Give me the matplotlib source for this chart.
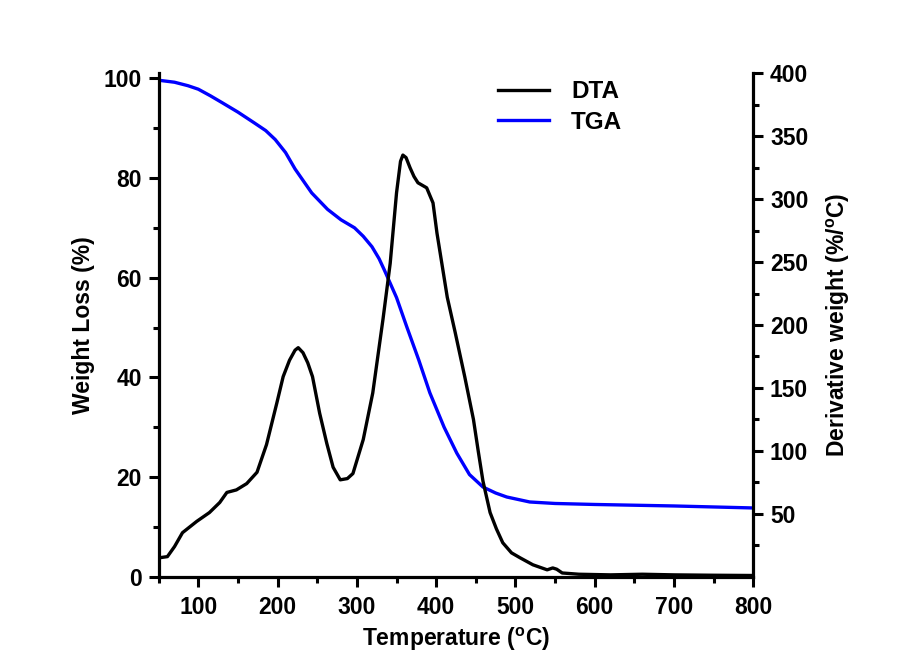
import matplotlib
matplotlib.use("Agg")
import matplotlib.pyplot as plt
from matplotlib.ticker import FixedLocator

plt.rcParams['font.family'] = ['Liberation Sans', 'DejaVu Sans']
plt.rcParams['font.weight'] = 'bold'
plt.rcParams['mathtext.fontset'] = 'custom'
plt.rcParams['mathtext.rm'] = 'Liberation Sans:bold'
plt.rcParams['mathtext.bf'] = 'Liberation Sans:bold'

# TGA curve (weight %, left axis)
tga_temp = [50, 70, 87, 100, 115, 130, 150, 171, 185, 197, 210, 222, 243, 263, 280, 297,
            308, 319, 328, 335, 350, 363, 378, 392, 410, 426, 442, 459, 475, 489, 518,
            550, 600, 700, 800]
tga_weight = [99.6, 99.2, 98.5, 97.8, 96.5, 95.1, 93.2, 91.0, 89.5, 87.7, 85.1, 81.8,
              77.0, 73.7, 71.6, 70.0, 68.3, 66.2, 63.8, 61.4, 56.0, 50.1, 43.5, 36.9,
              30.0, 24.8, 20.5, 18.0, 16.8, 16.0, 15.0, 14.7, 14.5, 14.2, 13.8]

# DTA / derivative curve (right axis)
dta_temp = [50, 61, 70, 80, 90, 98, 114, 127, 136, 148, 161, 174, 186, 199, 207, 215,
            222, 226, 232, 238, 244, 253, 262, 270, 279, 288, 295, 308, 320, 333, 342,
            350, 355, 358, 362, 367, 372, 377, 388, 396, 401, 414, 424, 436, 447, 453,
            459, 468, 476, 484, 495, 506, 522, 540, 547, 552, 559, 580, 620, 660, 700,
            750, 800]
dta_value = [15, 16, 24, 35, 40, 44, 51, 59, 67, 69, 74, 83, 105, 138, 159, 172,
             180, 182, 178, 170, 159, 130, 106, 87, 77, 78, 82, 109, 146, 205, 249,
             305, 330, 335, 333, 325, 318, 313, 309, 297, 273, 222, 194, 159, 125, 100,
             76, 51, 38, 27, 19, 15, 9.5, 5.5, 7, 6, 3, 2, 1.5, 2, 1.5, 1.2, 1]

fig = plt.figure(figsize=(9.12, 6.66), dpi=100)
ax = fig.add_axes([0.174, 0.134, 0.652, 0.756])
ax2 = ax.twinx()

l1, = ax2.plot(dta_temp, dta_value, color='black', lw=2.4, label='DTA')
l2, = ax.plot(tga_temp, tga_weight, color='#0000ff', lw=2.4, label='TGA')

ax.set_xlim(50, 800)
ax.set_ylim(0, 101)
ax2.set_ylim(0, 400)

ax.xaxis.set_major_locator(FixedLocator(range(100, 801, 100)))
ax.xaxis.set_minor_locator(FixedLocator(range(50, 800, 100)))
ax.yaxis.set_major_locator(FixedLocator(range(0, 101, 20)))
ax.yaxis.set_minor_locator(FixedLocator(range(10, 100, 20)))
ax2.yaxis.set_major_locator(FixedLocator(range(50, 401, 50)))
ax2.yaxis.set_minor_locator(FixedLocator(range(25, 400, 50)))

for a in (ax, ax2):
    a.spines['top'].set_visible(False)
    for s in a.spines.values():
        s.set_linewidth(2.3)
    a.tick_params(which='major', length=7, width=2.2, labelsize=16.5, pad=5, direction='out')
    a.tick_params(which='minor', length=4, width=2.2, direction='out')
ax.tick_params(axis='x', pad=7)
ax.spines['right'].set_visible(False)
ax2.spines['left'].set_visible(False)
ax2.spines['bottom'].set_visible(False)

ax.set_xlabel(r'Temperature ($^{\mathrm{o}}$C)', fontsize=16.5, fontweight='bold', labelpad=5)
ax.set_ylabel('Weight Loss (%)', fontsize=16.5, fontweight='bold', labelpad=6)
ax2.set_ylabel(r'Derivative weight (%/$^{\mathrm{o}}$C)', fontsize=16.5, fontweight='bold',
               labelpad=12)

fig.legend(handles=[l1, l2], loc='center', bbox_to_anchor=(560 / 912, 1 - 107 / 666),
           frameon=False, fontsize=17.5, handlelength=2.1, handletextpad=0.9,
           labelspacing=0.3)

fig.savefig('out.png', dpi=100)
